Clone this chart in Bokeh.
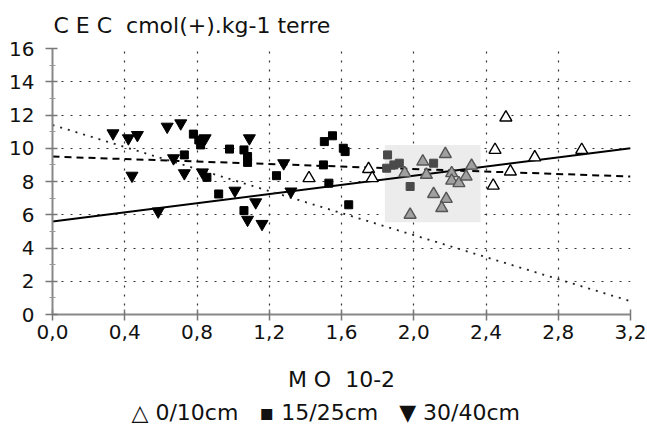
from bokeh.plotting import figure
from bokeh.models import (FixedTicker, BoxAnnotation, ColumnDataSource, Range1d, Title)
from bokeh.embed import file_html
from bokeh.resources import INLINE

# ---------------- data ----------------
mo_0_10 = [1.42, 1.75, 1.77, 2.45, 2.51, 2.535, 2.44, 2.67, 2.93,
           1.95, 2.05, 2.07, 2.175, 2.21, 2.21, 2.25, 2.29, 2.32,
           2.11, 2.18, 2.155, 1.98]
cec_0_10 = [8.2, 8.75, 8.2, 9.9, 11.85, 8.6, 7.75, 9.45, 9.9,
            8.5, 9.2, 8.4, 9.65, 8.5, 8.05, 7.9, 8.3, 8.95,
            7.25, 6.95, 6.4, 6.0]

mo_15_25 = [0.78, 0.81, 0.82, 0.73, 0.855, 0.92, 0.98, 1.06, 1.08, 1.08,
            1.06, 1.24, 1.50, 1.505, 1.55, 1.61, 1.62, 1.53, 1.64,
            1.855, 1.85, 1.89, 1.92, 2.11, 1.98]
cec_15_25 = [10.85, 10.5, 10.2, 9.6, 8.25, 7.25, 9.95, 9.9, 9.5, 9.15,
             6.25, 8.35, 9.0, 10.4, 10.75, 10.0, 9.8, 7.9, 6.6,
             9.6, 8.8, 9.0, 9.1, 9.1, 7.7]

mo_30_40 = [0.335, 0.42, 0.47, 0.635, 0.71, 0.44, 0.67, 0.73, 0.83, 0.845,
            0.585, 1.01, 1.09, 1.125, 1.08, 1.16, 1.28, 1.32]
cec_30_40 = [10.9, 10.6, 10.8, 11.3, 11.5, 8.35, 9.4, 8.5, 8.55, 10.6,
             6.2, 7.45, 10.6, 6.75, 5.7, 5.45, 9.1, 7.4]

series_names = ["0/10cm", "15/25cm", "30/40cm"]
series_symbols = ["\u25b3", "\u25aa", "\u25bc"]

# regression lines (end values at MO = 0 and 3.2)
fit_x = [0.0, 3.2]
fit_solid = [5.6, 10.0]
fit_dashed = [9.5, 8.3]
fit_dotted = [11.4, 0.8]

# shaded zone seen in the reference
zone_x = [1.84, 2.37]
zone_y = [5.55, 10.2]

x_ticks = [0.0, 0.4, 0.8, 1.2, 1.6, 2.0, 2.4, 2.8, 3.2]
x_tick_labels = ["0,0", "0,4", "0,8", "1,2", "1,6", "2,0", "2,4", "2,8", "3,2"]
y_ticks = [0, 2, 4, 6, 8, 10, 12, 14, 16]
y_tick_labels = ["0", "2", "4", "6", "8", "10", "12", "14", "16"]

title_text = "C E C\u00a0 cmol(+).kg-1 terre"
x_title = "M O\u00a0 10-2"

FONT = "DejaVu Sans"

# ---------------- figure ----------------
p = figure(frame_width=578, frame_height=266, output_backend="svg", toolbar_location=None,
           x_range=Range1d(0, 3.2), y_range=Range1d(0, 16),
           min_border_left=52, min_border_right=17, min_border_top=47,
           min_border_bottom=0)
p.outline_line_color = None
p.background_fill_color = "white"
p.border_fill_color = "white"

# title (y axis caption)
p.title.text = title_text
p.title.align = "left"
p.title.text_font = FONT
p.title.text_font_size = "22px"
p.title.text_font_style = "normal"
p.title.text_color = "#111111"
p.title.offset = 1
p.title.standoff = 21

# shaded zone
p.add_layout(BoxAnnotation(left=zone_x[0], right=zone_x[1],
                           bottom=zone_y[0], top=zone_y[1],
                           fill_color="#ececec", fill_alpha=1.0,
                           line_color=None, level="underlay"))

# axes
xa = p.xaxis[0]
xa.ticker = FixedTicker(ticks=x_ticks)
xa.major_label_overrides = {t: l for t, l in zip(x_ticks, x_tick_labels)}
xa.axis_label = x_title
ya = p.yaxis[0]
ya.ticker = FixedTicker(ticks=y_ticks, minor_ticks=list(range(1, 16, 2)))
ya.major_label_overrides = {t: l for t, l in zip(y_ticks, y_tick_labels)}

for ax in (xa, ya):
    ax.axis_line_color = "#888888"
    ax.axis_line_width = 2
    ax.major_tick_line_color = "#777777"
    ax.major_tick_line_width = 1.5
    ax.major_label_text_font = FONT
    ax.major_label_text_font_size = "20px"
    ax.major_label_text_color = "#111111"
    ax.axis_label_text_font = FONT
    ax.axis_label_text_font_size = "22px"
    ax.axis_label_text_font_style = "normal"
    ax.axis_label_text_color = "#111111"

xa.major_tick_in = 5
xa.major_tick_out = 6
xa.minor_tick_line_color = None
xa.major_label_standoff = 4
xa.axis_label_standoff = 25
ya.major_tick_in = 5
ya.major_tick_out = 7
ya.minor_tick_in = 3
ya.minor_tick_out = 3
ya.minor_tick_line_color = "#999999"
ya.major_label_standoff = 11

# dotted grids
p.xgrid.ticker = FixedTicker(ticks=[t for t in x_ticks if 0 < t < 3.2])
p.ygrid.ticker = FixedTicker(ticks=[t for t in y_ticks if t > 0])
for g in (p.xgrid, p.ygrid):
    g.grid_line_color = "#333333"
    g.grid_line_dash = "2 7"
    g.grid_line_width = 1.2

# regression lines
p.line(fit_x, fit_solid, line_color="black", line_width=2)
p.line(fit_x, fit_dashed, line_color="black", line_width=2, line_dash="7 5")
p.line(fit_x, fit_dotted, line_color="#222222", line_width=1.8, line_dash="2 6")

# points; those in the shaded zone look greyed
def in_zone(x, y):
    return zone_x[0] <= x <= zone_x[1] and zone_y[0] <= y <= zone_y[1]

tri_fill = ["#a0a0a0" if in_zone(x, y) else "white" for x, y in zip(mo_0_10, cec_0_10)]
tri_line = ["#555555" if in_zone(x, y) else "black" for x, y in zip(mo_0_10, cec_0_10)]
sq_col = ["#4a4a4a" if in_zone(x, y) else "black" for x, y in zip(mo_15_25, cec_15_25)]

src0 = ColumnDataSource(dict(x=mo_0_10, y=cec_0_10, f=tri_fill, l=tri_line))
src1 = ColumnDataSource(dict(x=mo_15_25, y=cec_15_25, c=sq_col))
src2 = ColumnDataSource(dict(x=mo_30_40, y=cec_30_40))

p.scatter("x", "y", source=src1, marker="square", size=8,
          fill_color="c", line_color="c")
p.scatter("x", "y", source=src2, marker="inverted_triangle", size=12,
          fill_color="black", line_color="black")
p.scatter("x", "y", source=src0, marker="triangle", size=12,
          fill_color="f", line_color="l", line_width=1.4)

# legend line below the axis title
legend_text = "\u00a0\u00a0 ".join(f"{s} {n}" for s, n in zip(series_symbols, series_names))
p.add_layout(Title(text=legend_text, align="left", offset=79, standoff=6,
                   text_font=FONT, text_font_size="22px", text_font_style="normal",
                   text_color="#111111"), "below")

open("out.html", "w").write(file_html(p, INLINE))
